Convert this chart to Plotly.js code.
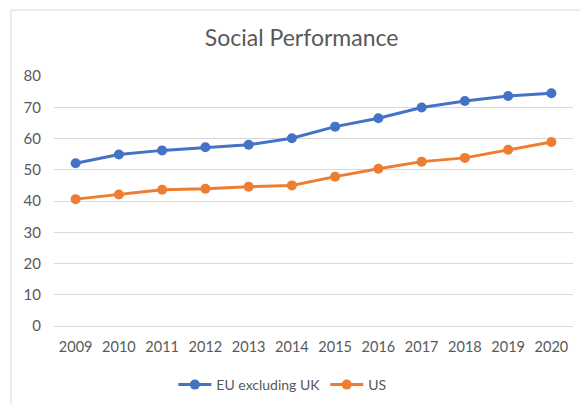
<!DOCTYPE html>
<html>
<head>
<meta charset="utf-8">
<script src="https://cdn.plot.ly/plotly-3.0.1.min.js"></script>
<style>html,body{margin:0;padding:0;background:#fff;}#chart{width:580px;height:404px;}</style>
</head>
<body>
<div id="chart"></div>
<script>
const years = ["2009","2010","2011","2012","2013","2014","2015","2016","2017","2018","2019","2020"];
const euExclUK = [52.1, 54.9, 56.2, 57.2, 58.0, 60.1, 63.8, 66.5, 69.9, 72.0, 73.6, 74.5];
const us = [40.6, 42.1, 43.6, 43.9, 44.6, 45.0, 47.8, 50.3, 52.6, 53.8, 56.4, 58.9];
const yTicks = [0, 10, 20, 30, 40, 50, 60, 70, 80];

const font = "Lato, 'Open Sans', sans-serif";
const traces = [
  {x: years, y: euExclUK, name: "EU excluding UK", type: "scatter", mode: "lines+markers",
   line: {color: "#4472C4", width: 3}, marker: {color: "#4472C4", size: 10}},
  {x: years, y: us, name: "US", type: "scatter", mode: "lines+markers",
   line: {color: "#ED7D31", width: 3}, marker: {color: "#ED7D31", size: 10}}
];
const layout = {
  width: 580, height: 404,
  margin: {l: 54, r: 7, t: 76, b: 78, autoexpand: false},
  paper_bgcolor: "#fff", plot_bgcolor: "#fff",
  font: {family: font, color: "#595959", size: 14},
  title: {text: "Social Performance", font: {family: font, size: 23, color: "#595959"},
          x: 0.52, xanchor: "center", y: 0.905, yanchor: "middle"},
  xaxis: {type: "category", range: [-0.5, 11.5], showgrid: false, zeroline: false, automargin: false,
          showline: false, ticks: "", ticklabelstandoff: 10, tickfont: {size: 14.5, color: "#595959"}},
  yaxis: {range: [0, 80], tickvals: yTicks, showgrid: true, gridcolor: "#d9d9d9", gridwidth: 1, automargin: false,
          zeroline: true, zerolinecolor: "#d9d9d9", zerolinewidth: 1, showline: false, ticks: "",
          ticklabelstandoff: 12, tickfont: {size: 15, color: "#595959"}},
  showlegend: true,
  legend: {orientation: "h", x: 0.44, xanchor: "center", y: -0.236, yanchor: "middle",
           itemwidth: 33, font: {size: 14, color: "#595959"}, bgcolor: "rgba(0,0,0,0)"},
  shapes: [{type: "rect", xref: "paper", yref: "paper", x0: -0.0829, x1: 1.2, y0: -0.5, y1: 1.264,
            line: {color: "#d9d9d9", width: 1}, fillcolor: "rgba(0,0,0,0)", layer: "below"}]
};
Plotly.newPlot("chart", traces, layout, {displayModeBar: false, staticPlot: true});
</script>
</body>
</html>
